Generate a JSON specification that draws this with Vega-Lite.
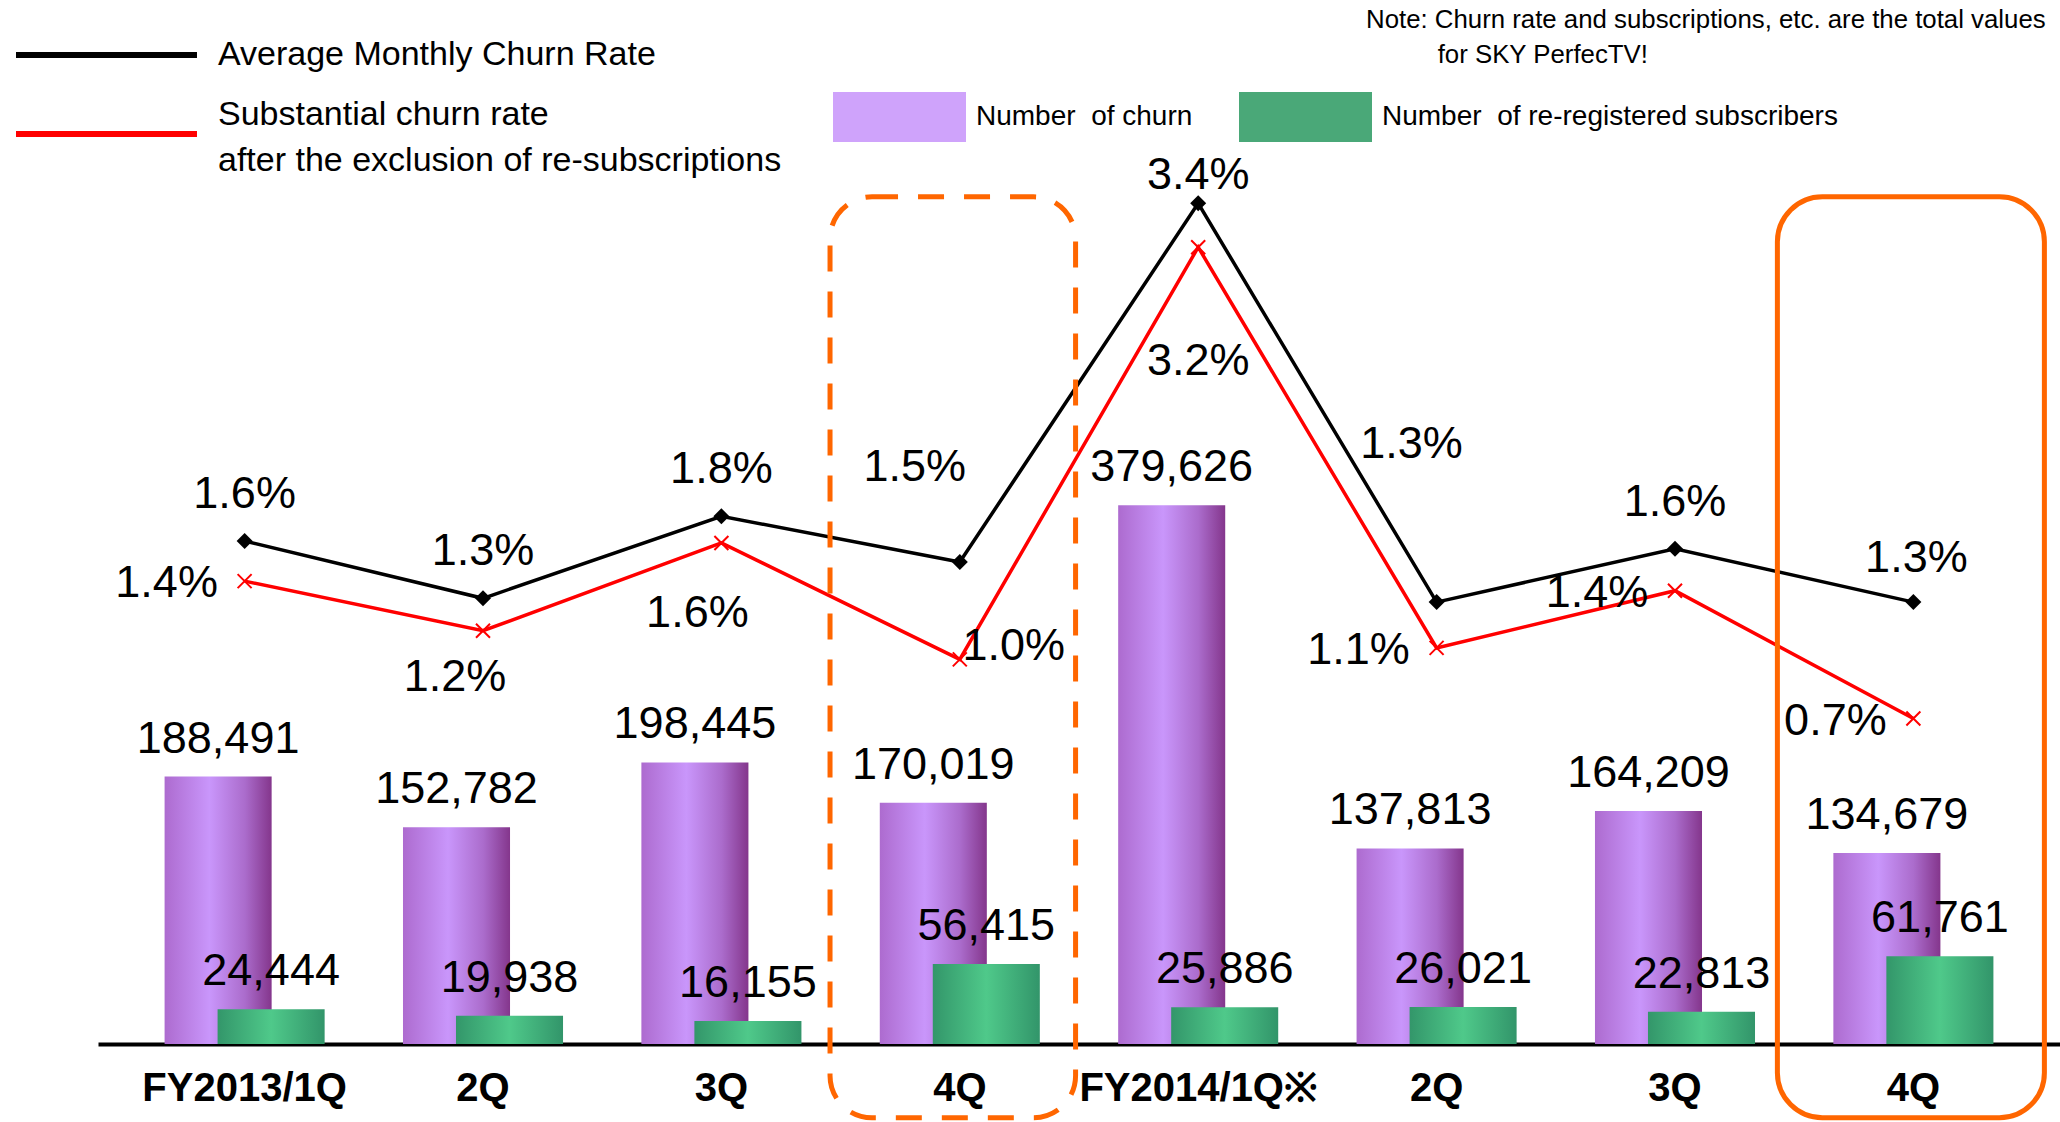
{
  "$schema": "https://vega.github.io/schema/vega-lite/v6.json",
  "width": 1962,
  "height": 894,
  "autosize": {"type": "none"},
  "padding": {"left": 98, "top": 150, "right": 0, "bottom": 78},
  "background": "white",
  "config": {
    "font": "Liberation Sans",
    "view": {"stroke": null},
    "axisX": {"domainColor": "#000000", "domainWidth": 4, "ticks": false, "grid": false, "labelFontSize": 40, "labelFontWeight": "bold", "labelColor": "#000000", "labelPadding": 24, "labelAngle": 0, "labelLimit": 0, "title": null}
  },
  "title": {
    "text": ["Note: Churn rate and subscriptions, etc. are the total values", "\u200b\u00a0\u00a0\u00a0\u00a0\u00a0\u00a0\u00a0\u00a0\u00a0\u00a0for SKY PerfecTV!"],
    "anchor": "end", "align": "left", "frame": "group", "dx": -694, "dy": 31, "offset": 0,
    "fontSize": 25.8, "fontWeight": "normal", "color": "#000000", "lineHeight": 35, "baseline": "top"
  },
  "data": {
    "values": [
      {"p": "a|FY2013/1Q", "churn": 188491, "rereg": 24444, "avg": 0.0163, "sub": 0.0142},
      {"p": "b|2Q", "churn": 152782, "rereg": 19938, "avg": 0.0133, "sub": 0.0116},
      {"p": "c|3Q", "churn": 198445, "rereg": 16155, "avg": 0.0176, "sub": 0.0162},
      {"p": "d|4Q", "churn": 170019, "rereg": 56415, "avg": 0.0152, "sub": 0.0101},
      {"p": "e|FY2014/1Q※", "churn": 379626, "rereg": 25886, "avg": 0.0340, "sub": 0.0317},
      {"p": "f|2Q", "churn": 137813, "rereg": 26021, "avg": 0.0131, "sub": 0.0107},
      {"p": "g|3Q", "churn": 164209, "rereg": 22813, "avg": 0.0159, "sub": 0.0137},
      {"p": "h|4Q", "churn": 134679, "rereg": 61761, "avg": 0.0131, "sub": 0.0070}
    ]
  },
  "encoding": {
    "x": {"field": "p", "type": "nominal", "sort": null, "scale": {"paddingInner": 0, "paddingOuter": 0.115}, "axis": {"labelExpr": "split(datum.value, '|')[1]", "title": null}}
  },
  "layer": [
    {
      "layer": [
        {
          "mark": {"type": "bar", "width": {"band": 0.449}, "xOffset": -26.5,
            "fill": {"gradient": "linear", "x1": 0, "y1": 0, "x2": 1, "y2": 0, "stops": [{"offset": 0, "color": "#ad6bcf"}, {"offset": 0.42, "color": "#c996fb"}, {"offset": 0.75, "color": "#ab6ccc"}, {"offset": 1, "color": "#84368c"}]}},
          "encoding": {
            "y": {"field": "churn", "type": "quantitative", "scale": {"domain": [0, 630000], "nice": false, "zero": false}, "axis": null}
          }
        },
        {
          "mark": {"type": "bar", "width": {"band": 0.449}, "xOffset": 26.5,
            "fill": {"gradient": "linear", "x1": 0, "y1": 0, "x2": 1, "y2": 0, "stops": [{"offset": 0, "color": "#33966a"}, {"offset": 0.5, "color": "#4fc98a"}, {"offset": 1, "color": "#32956a"}]}},
          "encoding": {
            "y": {"field": "rereg", "type": "quantitative", "scale": {"domain": [0, 630000], "nice": false, "zero": false}, "axis": null}
          }
        },
        {
          "transform": [{"fold": ["churn", "rereg"], "as": ["kind", "v"]}],
          "mark": {"type": "bar", "width": {"band": 0.449}},
          "encoding": {
            "y": {"datum": 0, "type": "quantitative", "scale": {"domain": [0, 630000], "nice": false, "zero": false}, "axis": null},
            "y2": {"datum": 0},
            "fill": {"field": "kind", "type": "nominal",
              "scale": {"domain": ["churn", "rereg"], "range": ["#cfa3fb", "#4aa878"]},
              "legend": {"orient": "none", "legendX": 735, "legendY": -58, "title": null, "padding": 0, "direction": "horizontal", "columns": 2,
                "symbolType": "M-1,-1L4.32,-1L4.32,1L-1,1Z", "symbolSize": 2500, "symbolStrokeWidth": 0,
                "labelFontSize": 28, "labelColor": "#000000", "labelOffset": 93, "columnPadding": 46, "labelLimit": 0,
                "labelExpr": "datum.value == 'churn' ? 'Number\u00a0 of churn' : 'Number\u00a0 of re-registered subscribers'",
                "encode": {"symbols": {"update": {"fill": {"signal": "datum.value == 'churn' ? {gradient: 'linear', x1: 0, y1: 0, x2: 1, y2: 0, stops: [{offset: 0, color: '#c594f7'}, {offset: 0.5, color: '#dab6fd'}, {offset: 1, color: '#c594f7'}]} : {gradient: 'linear', x1: 0, y1: 0, x2: 1, y2: 0, stops: [{offset: 0, color: '#349965'}, {offset: 0.5, color: '#5db08a'}, {offset: 1, color: '#349965'}]}"}, "opacity": {"value": 1}}}}}
            }
          }
        },
        {
          "mark": {"type": "text", "dx": -26.5, "dy": -38, "fontSize": 45, "fill": "#000000", "baseline": "middle", "align": "center"},
          "encoding": {
            "y": {"field": "churn", "type": "quantitative", "scale": {"domain": [0, 630000], "nice": false, "zero": false}, "axis": null},
            "text": {"field": "churn", "type": "quantitative", "format": ","}
          }
        },
        {
          "mark": {"type": "text", "dx": 26.5, "dy": -38, "fontSize": 45, "fill": "#000000", "baseline": "middle", "align": "center"},
          "encoding": {
            "y": {"field": "rereg", "type": "quantitative", "scale": {"domain": [0, 630000], "nice": false, "zero": false}, "axis": null},
            "text": {"field": "rereg", "type": "quantitative", "format": ","}
          }
        }
      ]
    },
    {
      "layer": [
        {
          "transform": [{"fold": ["avg", "sub"], "as": ["series", "rate"]}],
          "mark": {"type": "line", "strokeWidth": 3.5},
          "encoding": {
            "y": {"field": "rate", "type": "quantitative", "scale": {"domain": [-0.010058, 0.036795], "nice": false, "zero": false}, "axis": null},
            "stroke": {"field": "series", "type": "nominal", "scale": {"domain": ["avg", "sub"], "range": ["#000000", "#ff0000"]},
              "legend": {"orient": "none", "legendX": -90, "legendY": -112, "title": null, "padding": 0,
                "symbolType": "M-1,0L19.11,0", "symbolSize": 324, "symbolStrokeWidth": 6,
                "labelFontSize": 34, "labelColor": "#000000", "labelOffset": 176, "rowPadding": 26, "labelLimit": 0,
                "labelExpr": "datum.value == 'avg' ? 'Average Monthly Churn Rate' : ['Substantial churn rate', 'after the exclusion of re-subscriptions']",
                "encode": {"labels": {"update": {"lineHeight": {"value": 46}, "dy": {"signal": "datum.value == 'sub' ? -19 : 0"}}}, "symbols": {"update": {"strokeWidth": {"value": 6}}}}}
            }
          }
        },
        {
          "mark": {"type": "point", "shape": "diamond", "size": 256, "filled": true, "fill": "#000000", "opacity": 1},
          "encoding": {"y": {"field": "avg", "type": "quantitative", "scale": {"domain": [-0.010058, 0.036795], "nice": false, "zero": false}, "axis": null}}
        },
        {
          "mark": {"type": "point", "shape": "M-1,-1L1,1M-1,1L1,-1", "size": 196, "filled": false, "stroke": "#ff0000", "strokeWidth": 2, "opacity": 1},
          "encoding": {"y": {"field": "sub", "type": "quantitative", "scale": {"domain": [-0.010058, 0.036795], "nice": false, "zero": false}, "axis": null}}
        },
        {
          "transform": [{"filter": {"field": "p", "oneOf": ["a|FY2013/1Q", "b|2Q", "c|3Q", "g|3Q"]}}],
          "mark": {"type": "text", "dy": -47, "fontSize": 45, "fill": "#000000", "baseline": "middle"},
          "encoding": {"y": {"field": "avg", "type": "quantitative", "scale": {"domain": [-0.010058, 0.036795], "nice": false, "zero": false}, "axis": null}, "text": {"field": "avg", "type": "quantitative", "format": ".1%"}}
        },
        {
          "transform": [{"filter": {"field": "p", "equal": "h|4Q"}}],
          "mark": {"type": "text", "dx": 3, "dy": -44, "fontSize": 45, "fill": "#000000", "baseline": "middle"},
          "encoding": {"y": {"field": "avg", "type": "quantitative", "scale": {"domain": [-0.010058, 0.036795], "nice": false, "zero": false}, "axis": null}, "text": {"field": "avg", "type": "quantitative", "format": ".1%"}}
        },
        {
          "transform": [{"filter": {"field": "p", "equal": "d|4Q"}}],
          "mark": {"type": "text", "dx": -45, "dy": -95, "fontSize": 45, "fill": "#000000", "baseline": "middle"},
          "encoding": {"y": {"field": "avg", "type": "quantitative", "scale": {"domain": [-0.010058, 0.036795], "nice": false, "zero": false}, "axis": null}, "text": {"field": "avg", "type": "quantitative", "format": ".1%"}}
        },
        {
          "transform": [{"filter": {"field": "p", "equal": "e|FY2014/1Q※"}}],
          "mark": {"type": "text", "dy": -28, "fontSize": 45, "fill": "#000000", "baseline": "middle"},
          "encoding": {"y": {"field": "avg", "type": "quantitative", "scale": {"domain": [-0.010058, 0.036795], "nice": false, "zero": false}, "axis": null}, "text": {"field": "avg", "type": "quantitative", "format": ".1%"}}
        },
        {
          "transform": [{"filter": {"field": "p", "equal": "f|2Q"}}],
          "mark": {"type": "text", "dx": -25, "dy": -158, "fontSize": 45, "fill": "#000000", "baseline": "middle"},
          "encoding": {"y": {"field": "avg", "type": "quantitative", "scale": {"domain": [-0.010058, 0.036795], "nice": false, "zero": false}, "axis": null}, "text": {"field": "avg", "type": "quantitative", "format": ".1%"}}
        },
        {
          "transform": [{"filter": {"field": "p", "oneOf": ["a|FY2013/1Q", "f|2Q", "g|3Q", "h|4Q"]}}],
          "mark": {"type": "text", "dx": -78, "dy": 2, "fontSize": 45, "fill": "#000000", "baseline": "middle"},
          "encoding": {"y": {"field": "sub", "type": "quantitative", "scale": {"domain": [-0.010058, 0.036795], "nice": false, "zero": false}, "axis": null}, "text": {"field": "sub", "type": "quantitative", "format": ".1%"}}
        },
        {
          "transform": [{"filter": {"field": "p", "equal": "b|2Q"}}],
          "mark": {"type": "text", "dx": -28, "dy": 46, "fontSize": 45, "fill": "#000000", "baseline": "middle"},
          "encoding": {"y": {"field": "sub", "type": "quantitative", "scale": {"domain": [-0.010058, 0.036795], "nice": false, "zero": false}, "axis": null}, "text": {"field": "sub", "type": "quantitative", "format": ".1%"}}
        },
        {
          "transform": [{"filter": {"field": "p", "equal": "c|3Q"}}],
          "mark": {"type": "text", "dx": -24, "dy": 70, "fontSize": 45, "fill": "#000000", "baseline": "middle"},
          "encoding": {"y": {"field": "sub", "type": "quantitative", "scale": {"domain": [-0.010058, 0.036795], "nice": false, "zero": false}, "axis": null}, "text": {"field": "sub", "type": "quantitative", "format": ".1%"}}
        },
        {
          "transform": [{"filter": {"field": "p", "equal": "d|4Q"}}],
          "mark": {"type": "text", "dx": 54, "dy": -13, "fontSize": 45, "fill": "#000000", "baseline": "middle"},
          "encoding": {"y": {"field": "sub", "type": "quantitative", "scale": {"domain": [-0.010058, 0.036795], "nice": false, "zero": false}, "axis": null}, "text": {"field": "sub", "type": "quantitative", "format": ".1%"}}
        },
        {
          "transform": [{"filter": {"field": "p", "equal": "e|FY2014/1Q※"}}],
          "mark": {"type": "text", "dy": 114, "fontSize": 45, "fill": "#000000", "baseline": "middle"},
          "encoding": {"y": {"field": "sub", "type": "quantitative", "scale": {"domain": [-0.010058, 0.036795], "nice": false, "zero": false}, "axis": null}, "text": {"field": "sub", "type": "quantitative", "format": ".1%"}}
        }
      ]
    },
    {
      "layer": [
        {
          "transform": [{"filter": {"field": "p", "equal": "d|4Q"}}],
          "mark": {"type": "bar", "width": {"band": 1.03}, "xOffset": -7, "fill": "transparent", "stroke": "#ff6600", "strokeWidth": 5, "strokeDash": [26, 20], "cornerRadius": 42},
          "encoding": {
            "y": {"datum": 597000, "type": "quantitative", "scale": {"domain": [0, 630000], "nice": false, "zero": false}, "axis": null},
            "y2": {"datum": -52000}
          }
        },
        {
          "transform": [{"filter": {"field": "p", "equal": "h|4Q"}}],
          "mark": {"type": "bar", "width": {"band": 1.12}, "xOffset": -2.5, "fill": "transparent", "stroke": "#ff6600", "strokeWidth": 5, "cornerRadius": 45},
          "encoding": {
            "y": {"datum": 597000, "type": "quantitative", "scale": {"domain": [0, 630000], "nice": false, "zero": false}, "axis": null},
            "y2": {"datum": -52000}
          }
        }
      ]
    }
  ],
  "resolve": {"scale": {"y": "independent"}}
}
